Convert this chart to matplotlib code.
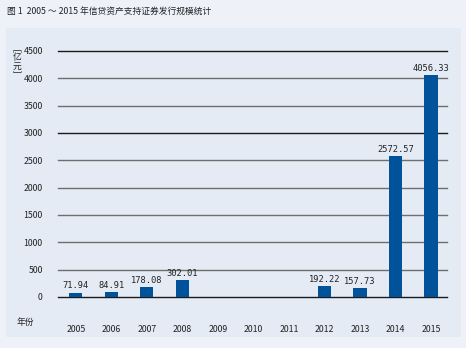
import numpy as np
import matplotlib.pyplot as plt
from matplotlib.patches import Rectangle

plt.rcParams['font.family'] = ['Noto Sans CJK SC', 'DejaVu Sans']

years = ['2005', '2006', '2007', '2008', '2009', '2010',
         '2011', '2012', '2013', '2014', '2015']
volumes = [71.94, 84.91, 178.08, 302.01, 0, 0, 0, 192.22, 157.73, 2572.57, 4056.33]
value_labels = ['71.94', '84.91', '178.08', '302.01', '', '', '',
                '192.22', '157.73', '2572.57', '4056.33']
yticks = [0, 500, 1000, 1500, 2000, 2500, 3000, 3500, 4000, 4500]

bar_color = '#00539b'

fig = plt.figure(figsize=(4.66, 3.48), dpi=100)
fig.patch.set_facecolor('#eef2f8')

# inner panel behind the plot
bg = fig.add_axes([0, 0, 1, 1], zorder=-1)
bg.set_axis_off()
bg.set_xlim(0, 466)
bg.set_ylim(348, 0)
bg.add_patch(Rectangle((6, 28), 455, 309, facecolor='#e4ebf4', edgecolor='none'))

fig.text(7 / 466, 1 - 11 / 348, '图 1  2005 〜 2015 年信贷资产支持证券发行规模统计',
         fontsize=6.3, va='center', ha='left', color='#222222')

ax = fig.add_axes([58 / 466, 51 / 348, 389 / 466, 246 / 348])
ax.set_facecolor('none')

x = np.arange(len(years))
ax.bar(x, volumes, width=0.37, color=bar_color, zorder=3)
for xi, v, lab in zip(x, volumes, value_labels):
    if lab:
        ax.text(xi, v + 50, lab, ha='center', va='bottom', fontsize=6.3,
                family='DejaVu Sans Mono', color='#222222')

ax.set_ylim(0, 4500)
ax.set_xlim(-0.5, len(years) - 0.55)
ax.set_yticks(yticks)
ax.set_yticklabels([str(t) for t in yticks], fontsize=6.3, color='#222222')
ax.set_xticks(x)
ax.set_xticklabels(years, fontsize=6.3, color='#222222')
ax.tick_params(axis='both', length=0)
ax.tick_params(axis='y', pad=11)
ax.tick_params(axis='x', pad=20)

# horizontal rules: mostly grey, a few darker ones
for t in yticks:
    c = '#1a1a1a' if t in (0, 3000, 4500) else '#6e6e6e'
    ax.axhline(t, color=c, linewidth=1, zorder=1, clip_on=False)
for s in ax.spines.values():
    s.set_visible(False)

fig.text(25 / 466, 1 - 322 / 348, '年份', fontsize=6.3, ha='center', va='center',
         color='#222222')
fig.text(17 / 466, 1 - 62 / 348, '﹇\n亿\n元\n﹈', fontsize=6.3, ha='center', va='center',
         linespacing=0.95, color='#222222')

fig.savefig('out.png', dpi=100, facecolor=fig.get_facecolor())
